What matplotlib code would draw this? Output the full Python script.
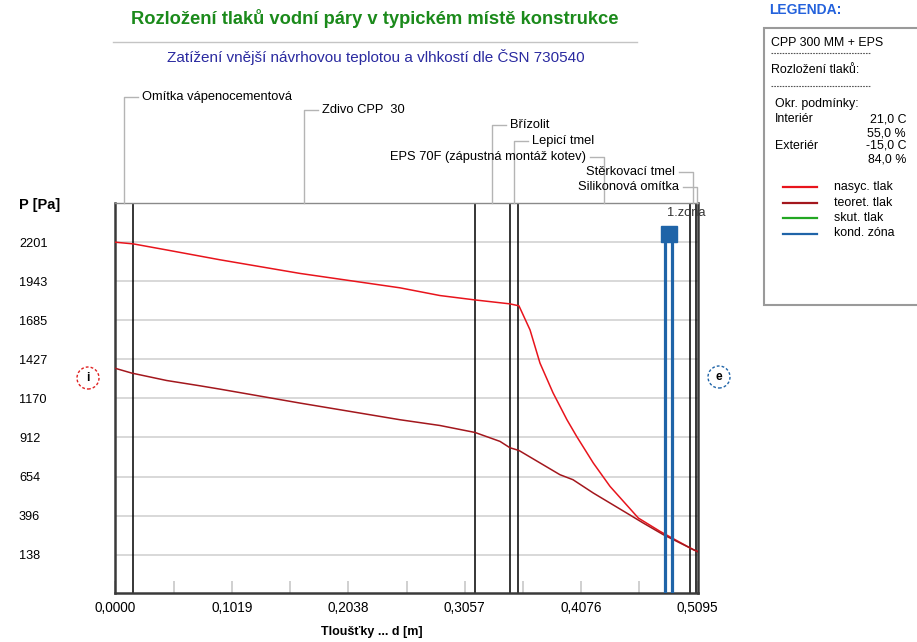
import matplotlib.pyplot as plt
import matplotlib.transforms as mtransforms
from matplotlib.patches import Circle, Rectangle
from matplotlib.lines import Line2D
import numpy as np

plt.rcParams['font.family'] = ['Liberation Sans', 'DejaVu Sans']

# skladba konstrukce (od interieru)
layers = ['Omítka vápenocementová', 'Zdivo CPP  30', 'Břízolit', 'Lepicí tmel',
          'EPS 70F (zápustná montáž kotev)', 'Stěrkovací tmel', 'Silikonová omítka']
thickness = [0.015, 0.300, 0.030, 0.0075, 0.150, 0.0055, 0.0015]

# nasycený tlak vodní páry [Pa]
x_sat = [0.0, 0.0156, 0.0448, 0.0915, 0.1615, 0.2490, 0.2840, 0.3147, 0.3453, 0.3532,
         0.3629, 0.3716, 0.3830, 0.3952, 0.4037, 0.4183, 0.4329, 0.4577, 0.4767, 0.5058, 0.5095]
p_sat = [2201, 2190, 2150, 2085, 1995, 1900, 1849, 1820, 1794, 1781,
         1622, 1403, 1207, 1029, 919, 743, 589, 380, 292, 171, 160]

# teoretický částečný tlak vodní páry [Pa]
x_teor = [0.0, 0.0142, 0.0448, 0.0740, 0.0915, 0.1615, 0.2490, 0.2840, 0.3147, 0.3366,
          0.3453, 0.3532, 0.3891, 0.4005, 0.4183, 0.4475, 0.4620, 0.4796, 0.5095]
p_teor = [1368, 1337, 1288, 1253, 1231, 1139, 1029, 991, 945, 886,
          844, 826, 666, 633, 545, 413, 347, 270, 158]

y_ticks = [138, 396, 654, 912, 1170, 1427, 1685, 1943, 2201]
x_ticks = [0.0, 0.1019, 0.2038, 0.3057, 0.4076, 0.5095]
x_ticklabels = ['0,0000', '0,1019', '0,2038', '0,3057', '0,4076', '0,5095']

kond_zona = [0.4813, 0.4874]

legend_info = [('Interiér', '21,0 C', '55,0 %'), ('Exteriér', '-15,0 C', '84,0 %')]
legend_lines = [('nasyc. tlak', '#e8141c'), ('teoret. tlak', '#a3171d'),
                ('skut. tlak', '#22a722'), ('kond. zóna', '#1f64a8')]

W, H = 917, 642
fig = plt.figure(figsize=(W / 100, H / 100), dpi=100)
inch = fig.dpi_scale_trans


def P(px, py):
    # pixel (od leveho horniho rohu) -> palce pro dpi_scale_trans
    return px / 100, (H - py) / 100


ax_left, ax_right, ax_top, ax_bottom = 115.5, 697.5, 203.3, 593
ax = fig.add_axes([ax_left / W, (H - ax_bottom) / H, (ax_right - ax_left) / W, (ax_bottom - ax_top) / H])
ax.set_xlim(0, 0.5095)
ax.set_ylim(-115, 2458)

# mrizka a osy
ax.set_axisbelow(True)
ax.set_yticks(y_ticks)
ax.set_yticklabels([str(v) for v in y_ticks], fontsize=9.2)
ax.grid(axis='y', color='#d6d6d6', lw=1.3)
ax.tick_params(axis='y', length=0, pad=69.5)
for lab in ax.get_yticklabels():
    lab.set_horizontalalignment('left')

all_x = np.linspace(0, 0.5095, 11)
ax.set_xticks(all_x)
ax.set_xticklabels([x_ticklabels[i // 2] if i % 2 == 0 else '' for i in range(11)], fontsize=9.8)
ax.tick_params(axis='x', direction='in', length=8.6, width=1.2, color='#c8c8c8', pad=6)

for side in ['left', 'bottom', 'right']:
    ax.spines[side].set_color('#3a3a3a')
    ax.spines[side].set_linewidth(1.8)
ax.spines['top'].set_color('#8a8a8a')
ax.spines['top'].set_linewidth(1.0)

# hranice vrstev
bounds = np.cumsum(thickness)
for b in bounds[:-1]:
    ax.axvline(b, color='black', lw=1.1, zorder=2)

# prubehy tlaku
ax.plot(x_sat, p_sat, color='#e8141c', lw=1.1, zorder=3)
ax.plot(x_teor, p_teor, color='#a3171d', lw=1.1, zorder=4)

# kondenzacni zona
zone_top = 0.92
for z in kond_zona:
    ax.axvline(z, ymin=0, ymax=zone_top, color='#1f64a8', lw=2.3, zorder=5)
zt = mtransforms.blended_transform_factory(ax.transData, ax.transAxes)
ax.plot([np.mean(kond_zona)], [zone_top], marker='s', ms=12, color='#1f64a8', transform=zt, clip_on=False, zorder=6)
ax.text(kond_zona[0] + 0.0012, 0.975, '1.zona', transform=zt, fontsize=9.3, color='#333333', va='center', clip_on=False)

# popisy vrstev s vodicimi carami
label_y = [97, 110, 125, 141, 157, 172, 187]
label_side = ['r', 'r', 'r', 'r', 'l', 'l', 'l']
mids = bounds - np.array(thickness) / 2
for name, mid, ly, side in zip(layers, mids, label_y, label_side):
    mx = ax.transData.transform((mid, 0))[0]
    if mid == mids[-1]:
        mx = 696.8
    x_end = mx + 14 if side == 'r' else mx - 14
    xs = [P(mx, ax_top)[0], P(mx, ly)[0], P(x_end, ly)[0]]
    ys = [P(mx, ax_top)[1], P(mx, ly)[1], P(x_end, ly)[1]]
    fig.add_artist(Line2D(xs, ys, transform=inch, color='#b4b4b4', lw=1.0))
    tx = x_end + 4 if side == 'r' else x_end - 4
    fig.text(*P(tx, ly), name, transform=inch, fontsize=9.3, va='center',
             ha='left' if side == 'r' else 'right')

# oznaceni interier / exterier
for cx, cy, txt, col in [(88, 378, 'i', '#e02020'), (719, 377, 'e', '#1f64a8')]:
    fig.add_artist(Circle(P(cx, cy), 0.11, transform=inch, fill=False, ec=col, lw=1.0, ls=(0, (2, 1.5))))
    fig.text(*P(cx, cy), txt, transform=inch, fontsize=8.5, fontweight='bold', ha='center', va='center')

# nadpisy
fig.text(*P(375, 19), 'Rozložení tlaků vodní páry v typickém místě konstrukce', transform=inch,
         fontsize=13.2, fontweight='bold', color='#1b8a1b', ha='center', va='center')
fig.add_artist(Line2D([P(113, 42)[0], P(637, 42)[0]], [P(113, 42)[1], P(637, 42)[1]],
                      transform=inch, color='#c4c4c4', lw=1.0))
fig.text(*P(376, 57), 'Zatížení vnější návrhovou teplotou a vlhkostí dle ČSN 730540', transform=inch,
         fontsize=11, color='#2a2aa0', ha='center', va='center')

fig.text(*P(19, 205), 'P [Pa]', transform=inch, fontsize=10.5, fontweight='bold', va='center')
fig.text(*P(372, 632), 'Tloušťky ... d [m]', transform=inch, fontsize=9, fontweight='bold',
         ha='center', va='center')

# legenda
fig.text(*P(769, 10), 'LEGENDA:', transform=inch, fontsize=10, fontweight='bold', color='#2462dc', va='center')
fig.add_artist(Rectangle(P(764, 305), 1.6, 2.77, transform=inch, fc='white', ec='#9a9a9a', lw=1.5))
fig.text(*P(771, 42.5), 'CPP 300 MM + EPS', transform=inch, fontsize=8.9, va='center')
fig.text(*P(771, 70), 'Rozložení tlaků:', transform=inch, fontsize=8.9, va='center')
for dy in [53, 86]:
    fig.add_artist(Line2D([P(771, dy)[0], P(870, dy)[0]], [P(771, dy)[1], P(870, dy)[1]],
                          transform=inch, color='#555555', lw=0.8, ls=(0, (1.5, 1))))
fig.text(*P(775, 104), 'Okr. podmínky:', transform=inch, fontsize=8.9, va='center')
for i, (nm, t, rh) in enumerate(legend_info):
    y0 = 119 + i * 27
    fig.text(*P(775, y0), nm, transform=inch, fontsize=8.9, va='center')
    fig.text(*P(906, y0), t, transform=inch, fontsize=8.9, va='center', ha='right')
    fig.text(*P(906, y0 + 14), rh, transform=inch, fontsize=8.9, va='center', ha='right')
for i, (nm, col) in enumerate(legend_lines):
    y0 = 187 + i * 15.5
    fig.add_artist(Line2D([P(783, y0)[0], P(817, y0)[0]], [P(783, y0)[1], P(817, y0)[1]],
                          transform=inch, color=col, lw=1.6))
    fig.text(*P(834, y0), nm, transform=inch, fontsize=8.9, va='center')

fig.savefig('out.png', dpi=100)
